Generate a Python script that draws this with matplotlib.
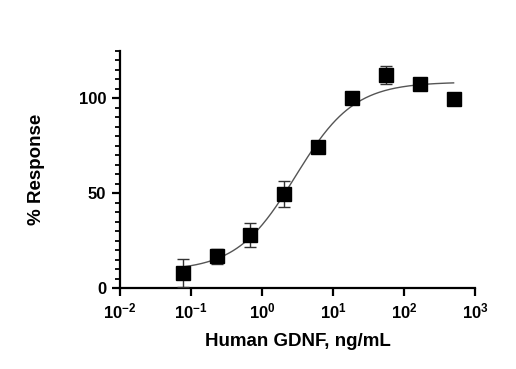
import numpy as np
import matplotlib
matplotlib.use("Agg")
import matplotlib.pyplot as plt
from matplotlib.ticker import FixedLocator, MultipleLocator, NullLocator, LogFormatterSciNotation

plt.rcParams['font.family'] = ['Liberation Sans', 'DejaVu Sans']
plt.rcParams['font.weight'] = 'bold'
plt.rcParams['mathtext.fontset'] = 'custom'
plt.rcParams['mathtext.rm'] = 'Liberation Sans:bold'
plt.rcParams['mathtext.it'] = 'Liberation Sans:bold'
plt.rcParams['mathtext.bf'] = 'Liberation Sans:bold'
plt.rcParams['mathtext.default'] = 'rm'

# Data (ng/mL, % response, SD)
conc = [0.0762, 0.229, 0.686, 2.06, 6.17, 18.5, 55.6, 166.7, 500.0]
resp = [7.8, 16.6, 28.0, 49.7, 74.2, 100.3, 112.2, 107.4, 99.8]
err = [7.5, 4.2, 6.2, 6.9, 3.0, 1.5, 4.6, 1.5, 1.0]

# 4-parameter logistic fit parameters
fit_bottom = 9.0
fit_top = 108.5
fit_ec50 = 2.95
fit_hill = 1.05

x_ticks = [1e-2, 1e-1, 1e0, 1e1, 1e2, 1e3]
y_ticks = [0, 50, 100]

fig = plt.figure(figsize=(5.16, 3.69), dpi=100)
ax = fig.add_axes([0.2326, 0.2195, 0.6879, 0.6431])

xc = np.logspace(np.log10(conc[0]), np.log10(conc[-1]), 300)
yc = fit_bottom + (fit_top - fit_bottom) / (1 + (fit_ec50 / xc) ** fit_hill)
ax.plot(xc, yc, color='#555555', lw=1.0, zorder=2)

ax.errorbar(conc, resp, yerr=err, fmt='s', color='black', ms=9.5, mec='black',
            ecolor='#333333', elinewidth=1.0, capsize=4, capthick=1.0, zorder=3)

ax.set_xscale('log')
ax.set_xlim(1e-2, 1e3)
ax.set_ylim(0, 125)
ax.xaxis.set_major_locator(FixedLocator(x_ticks))
ax.xaxis.set_minor_locator(NullLocator())
ax.xaxis.set_major_formatter(LogFormatterSciNotation())
ax.yaxis.set_major_locator(FixedLocator(y_ticks))
ax.yaxis.set_minor_locator(MultipleLocator(5))

for s in ['top', 'right']:
    ax.spines[s].set_visible(False)
for s in ['left', 'bottom']:
    ax.spines[s].set_linewidth(1.6)

ax.tick_params(axis='both', which='major', length=6, width=1.6, labelsize=12, pad=4)
ax.tick_params(axis='y', which='minor', length=3.5, width=1.3)

ax.set_xlabel('Human GDNF, ng/mL', fontsize=13.5, fontweight='bold', labelpad=8)
ax.set_ylabel('% Response', fontsize=13.5, fontweight='bold', labelpad=24)

fig.savefig('out.png', dpi=100)
